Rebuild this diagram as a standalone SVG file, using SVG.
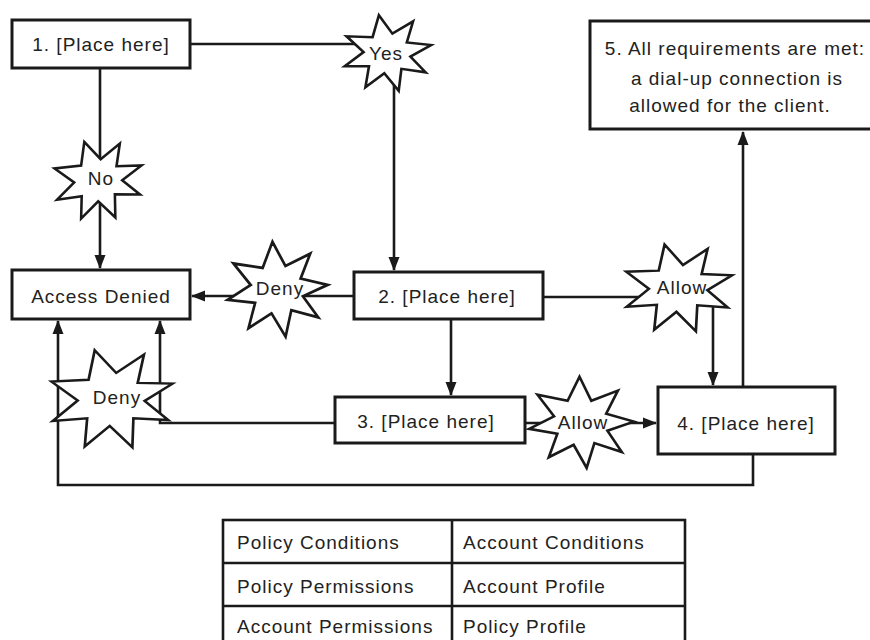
<svg xmlns="http://www.w3.org/2000/svg" xmlns:xlink="http://www.w3.org/1999/xlink" width="870" height="640" viewBox="0 0 870 640">
<style>
.box{fill:#fff;stroke:#1a1a1a;stroke-width:3}
.star{fill:#fff;stroke:#1a1a1a;stroke-width:2.6;stroke-linejoin:miter}
.t{font-family:"Liberation Sans",Arial,Helvetica,sans-serif;font-size:19px;letter-spacing:1px;fill:#222;text-anchor:middle}
.tl{font-family:"Liberation Sans",Arial,Helvetica,sans-serif;font-size:19px;letter-spacing:1px;fill:#222}
.c{fill:none;stroke:#1a1a1a;stroke-width:2.6}
.tb{fill:none;stroke:#1a1a1a;stroke-width:2.6}
</style>
<defs>
<marker id="ah" markerUnits="userSpaceOnUse" markerWidth="14" markerHeight="12" refX="13" refY="6" orient="auto">
<path d="M0,0.5 L14,6 L0,11.5 Z" fill="#1a1a1a"/>
</marker>
<path id="burst" d="M-9,-43 L6,-22 L29,-36 L22,-12 L49,-9 L26,4 L43,22 L16,18 L13,43 L-3,23 L-24,39 L-20,15 L-47,15 L-26,-1 L-45,-19 L-16,-18 Z"/>
</defs>
<rect width="870" height="640" fill="#fff"/>

<g id="connectors">
<path class="c" d="M190,44 H394 V270" marker-end="url(#ah)"/>
<path class="c" d="M100,68 V268" marker-end="url(#ah)"/>
<path class="c" d="M354,296 H192" marker-end="url(#ah)"/>
<path class="c" d="M543,297 H713 V385" marker-end="url(#ah)"/>
<path class="c" d="M451,319 V395" marker-end="url(#ah)"/>
<path class="c" d="M525,423 H656" marker-end="url(#ah)"/>
<path class="c" d="M335,423 H160 V321" marker-end="url(#ah)"/>
<path class="c" d="M743,387 V132" marker-end="url(#ah)"/>
<path class="c" d="M753,454 V485 H58 V321" marker-end="url(#ah)"/>
</g>

<g id="node1">
<rect class="box" x="12" y="20" width="178" height="48"/>
<text class="t" x="101" y="51">1. [Place here]</text>
</g>
<g id="node-yes">
<use xlink:href="#burst" class="star" transform="translate(387,53) scale(0.9,0.88)" style="stroke-width:2.9"/>
<text class="t" x="386" y="60">Yes</text>
</g>
<g id="node-no">
<use xlink:href="#burst" class="star" transform="translate(98,180) scale(0.92,0.92) rotate(-8)" style="stroke-width:2.8"/>
<text class="t" x="101" y="185">No</text>
</g>
<g id="access-denied">
<rect class="box" x="12" y="270" width="178" height="49"/>
<text class="t" x="101" y="303">Access Denied</text>
</g>
<g id="node-deny1">
<use xlink:href="#burst" class="star" transform="translate(277,289) scale(1.02,1.08) rotate(6)"/>
<text class="t" x="280" y="295">Deny</text>
</g>
<g id="node2">
<rect class="box" x="354" y="272" width="189" height="47"/>
<text class="t" x="447" y="303">2. [Place here]</text>
</g>
<g id="node-allow1">
<use xlink:href="#burst" class="star" transform="translate(678,288) scale(1.12,1.03) rotate(-4)" style="stroke-width:2.4"/>
<text class="t" x="682" y="294">Allow</text>
</g>
<g id="node3">
<rect class="box" x="335" y="397" width="190" height="46"/>
<text class="t" x="426" y="428">3. [Place here]</text>
</g>
<g id="node-allow2">
<use xlink:href="#burst" class="star" transform="translate(581,422) scale(1.06,1.03) rotate(10)" style="stroke-width:2.5"/>
<text class="t" x="583" y="429">Allow</text>
</g>
<g id="node-deny2">
<use xlink:href="#burst" class="star" transform="translate(111,399) scale(1.28,1.16) rotate(-5)" style="stroke-width:2.1"/>
<text class="t" x="117" y="404">Deny</text>
</g>
<g id="node4">
<rect class="box" x="658" y="387" width="177" height="67"/>
<text class="t" x="746" y="430">4. [Place here]</text>
</g>
<g id="node5">
<rect class="box" x="590" y="21" width="290" height="108"/>
<text class="t" x="735" y="55">5. All requirements are met:</text>
<text class="t" x="737" y="85">a dial-up connection is</text>
<text class="t" x="730" y="112">allowed for the client.</text>
</g>

<g id="table">
<rect class="tb" x="223" y="520" width="462" height="130"/>
<line class="tb" x1="223" y1="563" x2="685" y2="563"/>
<line class="tb" x1="223" y1="606" x2="685" y2="606"/>
<line class="tb" x1="452" y1="520" x2="452" y2="650"/>
<text class="tl" x="237" y="549">Policy Conditions</text>
<text class="tl" x="463" y="549">Account Conditions</text>
<text class="tl" x="237" y="593">Policy Permissions</text>
<text class="tl" x="463" y="593">Account Profile</text>
<text class="tl" x="237" y="633">Account Permissions</text>
<text class="tl" x="463" y="633">Policy Profile</text>
</g>
</svg>
